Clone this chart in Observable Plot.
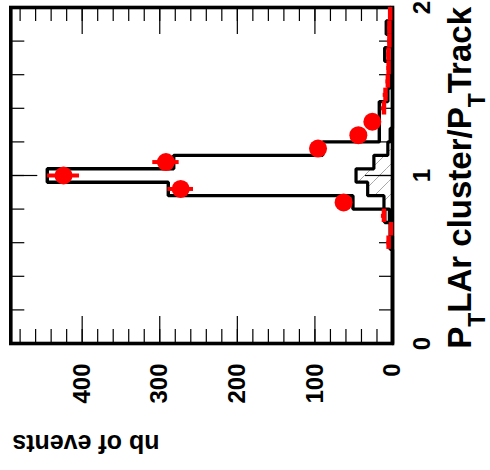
<!DOCTYPE html>
<html>
<head>
<meta charset="utf-8">
<script src="https://cdn.jsdelivr.net/npm/d3@7"></script>
<script src="https://cdn.jsdelivr.net/npm/@observablehq/plot@0.6"></script>
<style>
  html, body { margin: 0; padding: 0; background: #fff; }
  #chart { width: 490px; height: 470px; overflow: hidden; }
</style>
</head>
<body>
<div id="chart"></div>
<script>
// ---- data ----
const binLo = [0.00, 0.08, 0.16, 0.24, 0.32, 0.40, 0.48, 0.56, 0.64, 0.72, 0.80, 0.88, 0.96,
               1.04, 1.12, 1.20, 1.28, 1.36, 1.44, 1.52, 1.60, 1.68, 1.76, 1.84, 1.92];
const binWidth = 0.08;
// black outlined histogram
const histCounts = [0, 0, 0, 0, 0, 0, 0, 3, 3, 10, 51, 289, 445,
                    282, 90, 17, 17, 17, 6, 3, 3, 10, 3, 8, 3];
// hatched histogram
const hatchCounts = [0, 0, 0, 0, 0, 0, 0, 0, 1, 4, 11, 32, 47,
                     24, 6, 3, 0, 0, 0, 0, 0, 0, 0, 0, 0];
// red points with errors
const pointCounts = [null, null, null, null, null, null, null, 5, 2, 11, 63, 273, 424,
                     292, 96, 44, 26, 11, 9, 6, 5, 5, 4, 4, 3];
const pointErrors = [null, null, null, null, null, null, null, 2.2, 1.4, 3.3, 8, 16.5, 20.6,
                     17, 9.8, 6.6, 5.1, 3.3, 3, 2.4, 2.2, 2.2, 2, 2, 1.7];

const countMajor = [0, 100, 200, 300, 400];
const countMinor = [0, 20, 40, 60, 80, 100, 120, 140, 160, 180, 200, 220, 240, 260, 280, 300,
                    320, 340, 360, 380, 400, 420, 440, 460, 480];
const ratioMajor = [0, 1, 2];
const ratioMinor = [0, 0.2, 0.4, 0.6, 0.8, 1, 1.2, 1.4, 1.6, 1.8, 2];
const ratioLabels = ["0", "1", "2"];
const countLabels = ["0", "100", "200", "300", "400"];
const xTitle = ["P", "T", "LAr cluster/P", "T", "Track"]; // parts, subscripts at 1 and 3
const yTitle = "nb of events";

// ---- derived tables ----
const stepPts = (counts) => binLo.flatMap((lo, i) => [
  {r: lo, c: counts[i]}, {r: lo + binWidth, c: counts[i]}
]);
const hatchRects = binLo.map((lo, i) => ({lo, hi: lo + binWidth, c: hatchCounts[i]})).filter(d => d.c > 0);
const points = binLo.map((lo, i) => ({
  lo, hi: lo + binWidth, mid: lo + binWidth / 2, c: pointCounts[i], e: pointErrors[i]
})).filter(d => d.c != null);

const W = 490, H = 470;
const mL = 10.3, mR = 98, mT = 7, mB = 127;
const FW = W - mL - mR, FH = H - mT - mB;
const font = "'Liberation Sans', Arial, Helvetica, sans-serif";

const svg = Plot.plot({
  width: W,
  height: H,
  marginLeft: mL,
  marginRight: mR,
  marginTop: mT,
  marginBottom: mB,
  style: {background: "white", fontFamily: font, overflow: "visible"},
  x: {domain: [0, 492], reverse: true, axis: null},
  y: {domain: [0, 2], axis: null},
  marks: [
    // hatched histogram
    Plot.rectX(hatchRects, {x1: 0, x2: "c", y1: "lo", y2: "hi", fill: "url(#hatch)"}),
    Plot.line(stepPts(hatchCounts), {x: "c", y: "r", stroke: "black", strokeWidth: 3.2, strokeLinejoin: "miter"}),
    // main histogram outline
    Plot.line(stepPts(histCounts), {x: "c", y: "r", stroke: "black", strokeWidth: 3.4, strokeLinejoin: "miter"}),
    // ticks on count axis (bottom and top)
    Plot.tickX(countMinor, {x: d => d, insetTop: FH - 14, stroke: "black", strokeWidth: 1.2}),
    Plot.tickX(countMajor, {x: d => d, insetTop: FH - 27, stroke: "black", strokeWidth: 1.2}),
    Plot.tickX(countMinor, {x: d => d, insetBottom: FH - 14, stroke: "black", strokeWidth: 1.2}),
    Plot.tickX(countMajor, {x: d => d, insetBottom: FH - 27, stroke: "black", strokeWidth: 1.2}),
    // ticks on ratio axis (left and right)
    Plot.tickY(ratioMinor, {y: d => d, insetRight: FW - 14, stroke: "black", strokeWidth: 1.2}),
    Plot.tickY(ratioMajor, {y: d => d, insetRight: FW - 27, stroke: "black", strokeWidth: 1.2}),
    Plot.tickY(ratioMinor, {y: d => d, insetLeft: FW - 13, stroke: "black", strokeWidth: 1.2}),
    Plot.tickY(ratioMajor, {y: d => d, insetLeft: FW - 27, stroke: "black", strokeWidth: 1.2}),
    Plot.frame({stroke: "black", strokeWidth: 3.6}),
    // red points
    Plot.ruleX(points, {x: "c", y1: "lo", y2: "hi", stroke: "#ff0000", strokeWidth: 4.5}),
    Plot.ruleY(points, {y: "mid", x1: d => d.c - d.e, x2: d => d.c + d.e, stroke: "#ff0000", strokeWidth: 4}),
    Plot.dot(points.filter(d => d.c >= 20), {x: "c", y: "mid", r: 9, fill: "#ff0000", stroke: "none"}),
    // tick labels
    Plot.text(countMajor, {x: d => d, text: (d, i) => countLabels[i], frameAnchor: "bottom", dy: 20,
      rotate: -90, textAnchor: "end", lineAnchor: "middle", fontSize: 24, fontWeight: "bold", fill: "black"}),
    Plot.text(ratioMajor, {y: d => d, text: (d, i) => ratioLabels[i], frameAnchor: "right", dx: 20,
      rotate: -90, textAnchor: "middle", lineAnchor: "top", fontSize: 24, fontWeight: "bold", fill: "black"})
  ]
});

// hatch pattern
d3.select(svg).insert("defs", ":first-child").html(
  `<pattern id="hatch" patternUnits="userSpaceOnUse" width="15" height="15">
     <path d="M0,15 L15,0 M-3,3 L3,-3 M12,18 L18,12" stroke="#a8a8a8" stroke-width="1" fill="none"/>
   </pattern>`
);

const xs = svg.scale("x"), ys = svg.scale("y");
const sel = d3.select(svg);

// x-axis title (ratio), rotated
const t = sel.append("text")
  .attr("transform", `translate(${xs.apply(0) + 79},${ys.apply(2)}) rotate(-90)`)
  .attr("text-anchor", "end")
  .attr("font-family", font)
  .attr("font-weight", "bold")
  .attr("font-size", 33)
  .attr("fill", "black");
xTitle.forEach((part, i) => {
  const sub = i === 1 || i === 3;
  const ts = t.append("tspan").text(part);
  if (sub) ts.attr("font-size", 23).attr("dy", 14);
  else if (i > 0) ts.attr("dy", -14);
});

// y-axis title (counts), upside down
sel.append("text")
  .attr("transform", `translate(${xs.apply(492) + 2},435) rotate(180)`)
  .attr("text-anchor", "end")
  .attr("font-family", font)
  .attr("font-weight", "bold")
  .attr("font-size", 25)
  .attr("fill", "black")
  .text(yTitle);

document.getElementById("chart").appendChild(svg);
</script>
</body>
</html>
